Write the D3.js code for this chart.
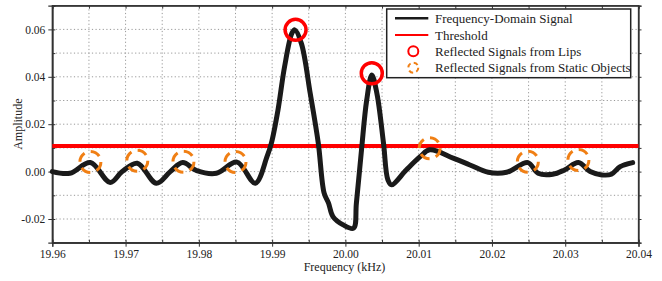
<!DOCTYPE html>
<html>
<head>
<meta charset="utf-8">
<script src="https://cdn.jsdelivr.net/npm/d3@7"></script>
<style>
  body { margin: 0; background: #fff; }
  svg { display: block; }
  svg text { font-family: 'Liberation Serif', serif; }
</style>
</head>
<body>
<svg id="chart" width="662" height="281"></svg>
<script>
// frequency-domain signal (kHz, amplitude)
const freq = [19.9600, 19.9624, 19.9652, 19.9679, 19.9695, 19.9716, 19.9742, 19.9761, 19.9778, 19.9797,
  19.9824, 19.9852, 19.9877, 19.9893, 19.9899, 19.9908, 19.9917, 19.9927, 19.9931, 19.9940,
  19.9952, 19.9963, 19.9971, 19.9977, 19.9983, 19.9997, 20.0011, 20.0015, 20.0022, 20.0029,
  20.0036, 20.0043, 20.0052, 20.0058, 20.0063, 20.0083, 20.0102, 20.0115, 20.0147, 20.0170,
  20.0195, 20.0220, 20.0249, 20.0263, 20.0283, 20.0299, 20.0318, 20.0334, 20.0350, 20.0363,
  20.0375, 20.0392]
const amp = [0.0000, -0.0007, 0.0038, -0.0046, -0.0001, 0.0035, -0.0049, 0.0000, 0.0038, 0.0004,
  -0.0007, 0.0040, -0.0049, 0.0063, 0.0120, 0.0260, 0.0443, 0.0584, 0.0598, 0.0540,
  0.0330, 0.0120, -0.0091, -0.0133, -0.0190, -0.0225, -0.0239, -0.0133, 0.0092, 0.0300,
  0.0408, 0.0330, 0.0120, -0.0035, -0.0056, 0.0007, 0.0063, 0.0092, 0.0057, 0.0028,
  -0.0003, -0.0003, 0.0038, -0.0007, -0.0011, 0.0007, 0.0038, 0.0000, -0.0014, -0.0011,
  0.0021, 0.0038]

const threshold = 0.0108

// markers
const lipsFreq = [19.9932, 20.0036]
const lipsAmp = [0.0598, 0.0415]
const staticFreq = [19.9652, 19.9716, 19.9779, 19.9850, 20.0115, 20.0249, 20.0318]
const staticAmp = [0.0041, 0.0046, 0.0042, 0.0041, 0.0099, 0.0042, 0.0049]

const xTicks = [19.96, 19.97, 19.98, 19.99, 20.00, 20.01, 20.02, 20.03, 20.04]
const yTicks = [-0.02, 0.00, 0.02, 0.04, 0.06]

const legendNames = ["Frequency-Domain Signal", "Threshold", "Reflected Signals from Lips", "Reflected Signals from Static Objects"]

const FONT = "Liberation Serif"

const svg = d3.select("#chart")
const area = { left: 52.3, right: 638.5, top: 5.7, bottom: 242.7 }

const scX = d3.scaleLinear().domain([19.96, 20.04]).range([area.left, area.right])
const scY = d3.scaleLinear().domain([-0.03, 0.07]).range([area.bottom, area.top])

// сетка
const gridX = d3.range(0, 17).map(i => 19.96 + i * 0.005)
const gridY = d3.range(0, 11).map(i => -0.03 + i * 0.01)
svg.append("g").selectAll("line")
  .data(gridX.slice(1, -1))
  .join("line")
  .attr("x1", d => scX(d)).attr("x2", d => scX(d))
  .attr("y1", area.top).attr("y2", area.bottom)
  .style("stroke", "#999").style("stroke-width", 1).style("stroke-dasharray", "1.2,2.4")
svg.append("g").selectAll("line")
  .data(gridY.slice(1, -1))
  .join("line")
  .attr("x1", area.left).attr("x2", area.right)
  .attr("y1", d => scY(d)).attr("y2", d => scY(d))
  .style("stroke", "#999").style("stroke-width", 1).style("stroke-dasharray", "1.2,2.4")

// оси
const fmtX = d3.format(".2f")
const fmtY = d => d3.format(".2f")(d).replace("−", "-").replace("-0.00", "0.00")
svg.append("g")
  .attr("transform", `translate(0,${area.bottom})`)
  .call(d3.axisBottom(scX).tickValues(xTicks).tickFormat(fmtX).tickSize(4).tickPadding(3))
svg.append("g")
  .attr("transform", `translate(${area.left},0)`)
  .call(d3.axisLeft(scY).tickValues(yTicks).tickFormat(fmtY).tickSize(4).tickPadding(3))
// minor ticks on box edges
svg.append("g")
  .attr("transform", `translate(0,${area.top})`)
  .call(d3.axisBottom(scX).tickValues(gridX).tickFormat("").tickSize(3))
svg.append("g")
  .attr("transform", `translate(0,${area.bottom})`)
  .call(d3.axisTop(scX).tickValues(gridX).tickFormat("").tickSize(3))
svg.append("g")
  .attr("transform", `translate(${area.right},0)`)
  .call(d3.axisRight(scY).tickValues(gridY).tickFormat("").tickSize(3))
svg.append("g")
  .attr("transform", `translate(${area.left},0)`)
  .call(d3.axisRight(scY).tickValues(gridY).tickFormat("").tickSize(3))

svg.selectAll("g").attr("font-family", null)
svg.selectAll(".domain").style("stroke", "#333").style("stroke-width", 1.3)
svg.selectAll(".tick line").style("stroke", "#333")
svg.selectAll(".tick text").style("font-size", "11.5px").style("fill", "#222")
  .style("font-family", FONT)

// рамка
svg.append("rect")
  .attr("x", area.left).attr("y", area.top)
  .attr("width", area.right - area.left).attr("height", area.bottom - area.top)
  .style("fill", "none").style("stroke", "#333").style("stroke-width", 1.3)

// подписи осей
svg.append("text")
  .attr("x", 344.5).attr("y", 271)
  .attr("text-anchor", "middle")
  .style("font-family", FONT).style("font-size", "12px").style("fill", "#222")
  .text("Frequency (kHz)")
svg.append("text")
  .attr("transform", `translate(21.5,${(area.top + area.bottom) / 2}) rotate(-90)`)
  .attr("text-anchor", "middle")
  .style("font-family", FONT).style("font-size", "12px").style("fill", "#222")
  .text("Amplitude")

// порог
svg.append("line")
  .attr("x1", area.left).attr("x2", area.right)
  .attr("y1", scY(threshold)).attr("y2", scY(threshold))
  .style("stroke", "#ff0000").style("stroke-width", 4)

// сигнал
const signal = freq.map((f, i) => ({ f: f, a: amp[i] }))
const lineF = d3.line()
  .x(d => scX(d.f))
  .y(d => scY(d.a))
  .curve(d3.curveCatmullRom.alpha(0.5))
svg.append("path")
  .datum(signal)
  .attr("d", lineF)
  .style("fill", "none")
  .style("stroke", "#1a1a1a")
  .style("stroke-width", 5)
  .style("stroke-linejoin", "round")
  .style("stroke-linecap", "round")

// маркеры
svg.append("g").selectAll("circle")
  .data(staticFreq.map((f, i) => ({ f: f, a: staticAmp[i] })))
  .join("circle")
  .attr("cx", d => scX(d.f)).attr("cy", d => scY(d.a))
  .attr("r", 10.5)
  .style("fill", "none").style("stroke", "#f07f14").style("stroke-width", 3)
  .style("stroke-dasharray", "10,6.5")
svg.append("g").selectAll("circle")
  .data(lipsFreq.map((f, i) => ({ f: f, a: lipsAmp[i] })))
  .join("circle")
  .attr("cx", d => scX(d.f)).attr("cy", d => scY(d.a))
  .attr("r", 10.5)
  .style("fill", "none").style("stroke", "#ff0000").style("stroke-width", 3.5)

// легенда
const lg = svg.append("g").attr("transform", "translate(386.7,9)")
lg.append("rect")
  .attr("width", 244).attr("height", 68.7)
  .style("fill", "#fff").style("stroke", "#222").style("stroke-width", 1.5)
const rowY = [9.3, 26, 42.3, 58.7]
const items = lg.selectAll(".legend-item")
  .data(legendNames)
  .join("g")
  .attr("class", "legend-item")
  .attr("transform", (d, i) => `translate(0,${rowY[i]})`)
items.append("text")
  .attr("x", 48.3).attr("y", 0).attr("dy", "0.35em")
  .style("font-family", FONT).style("font-size", "13px").style("fill", "#222")
  .text(d => d)
items.filter((d, i) => i == 0).append("line")
  .attr("x1", 8.3).attr("x2", 41.6).attr("y1", 0).attr("y2", 0)
  .style("stroke", "#1a1a1a").style("stroke-width", 2.5)
items.filter((d, i) => i == 1).append("line")
  .attr("x1", 8.3).attr("x2", 41.6).attr("y1", 0).attr("y2", 0)
  .style("stroke", "#ff0000").style("stroke-width", 2)
items.filter((d, i) => i == 2).append("circle")
  .attr("cx", 26.6).attr("r", 5)
  .style("fill", "none").style("stroke", "#ff0000").style("stroke-width", 2)
items.filter((d, i) => i == 3).append("circle")
  .attr("cx", 26.6).attr("r", 5)
  .style("fill", "none").style("stroke", "#f07f14").style("stroke-width", 2)
  .style("stroke-dasharray", "4.5,3.3")
</script>
</body>
</html>
